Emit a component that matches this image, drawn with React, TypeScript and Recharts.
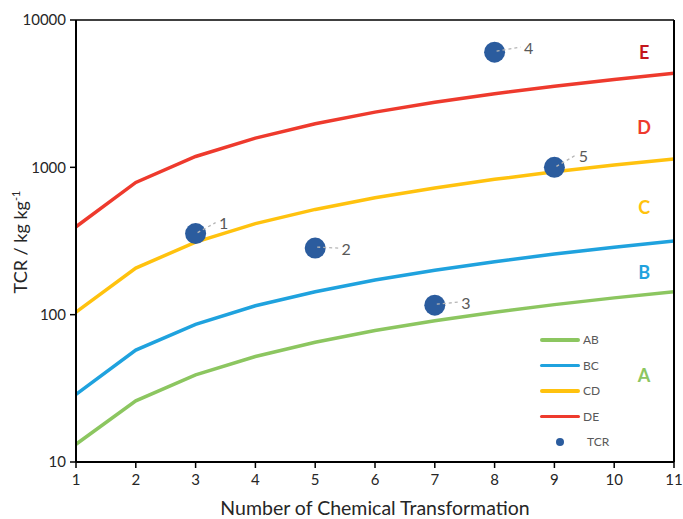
import React from "react";
import { ComposedChart, Line, Scatter, XAxis, YAxis, ReferenceDot } from "recharts";

const N = [1, 2, 3, 4, 5, 6, 7, 8, 9, 10, 11];
const AB = [13.2, 26, 39, 52, 65, 78, 91, 104, 117, 130, 143];
const BC = [28.8, 57.5, 86, 115, 143, 172, 200, 229, 258, 287, 316];
const CD = [104, 207, 311, 415, 518, 622, 725, 829, 932, 1036, 1140];
const DE = [395, 790, 1185, 1580, 1975, 2370, 2765, 3160, 3555, 3950, 4345];

const TCR_X = [3, 5, 7, 8, 9];
const TCR_Y = [355, 283, 116, 6050, 1000];
const TCR_LABELS = ["1", "2", "3", "4", "5"];

const MAJOR = [10, 100, 1000, 10000];
const MINOR = [20, 30, 40, 50, 60, 70, 80, 90, 200, 300, 400, 500, 600, 700, 800, 900, 2000, 3000, 4000, 5000, 6000, 7000, 8000, 9000];

const REGIONS = ["E", "D", "C", "B", "A"];

const SERIES = [
  { key: "AB", color: "#8CC660" },
  { key: "BC", color: "#1FA2DE" },
  { key: "CD", color: "#FFC20E" },
  { key: "DE", color: "#EE3A2D" },
];
const DOT = "#2B5C9E";
const FONT = "Lato, 'Open Sans', sans-serif";

// placement of the zone letters and the point labels (not data)
const REGION_X = 10.5;
const REGION_Y = [6070, 1880, 540, 194, 39];
const REGION_COLORS = ["#C4161C", "#EE3A2D", "#FFC20E", "#1FA2DE", "#8CC660"];
const LABEL_OFFSETS = [
  [28, -11],
  [31, 0],
  [31, -3],
  [34, -5],
  [29, -12],
];

const lineData = N.map((n, i) => ({ n, AB: AB[i], BC: BC[i], CD: CD[i], DE: DE[i] }));
const tcrData = TCR_X.map((n, i) => ({ n, tcr: TCR_Y[i], label: TCR_LABELS[i], i }));

function TcrDot(props: any) {
  const { cx, cy, payload } = props;
  const [dx, dy] = LABEL_OFFSETS[payload.i];
  return (
    <g>
      <circle cx={cx} cy={cy} r={10.5} fill={DOT} />
      <line
        x1={cx + 2}
        y1={cy - 1}
        x2={cx + dx - 8}
        y2={cy + dy}
        stroke="#B5B5B5"
        strokeWidth={1.3}
        strokeDasharray="3 3"
      />
      <text
        x={cx + dx}
        y={cy + dy}
        dominantBaseline="central"
        textAnchor="middle"
        fontSize={16}
        fill="#595959"
        fontFamily={FONT}
      >
        {payload.label}
      </text>
    </g>
  );
}

function XTick(props: any) {
  const { x, y, payload } = props;
  return (
    <text x={x} y={y + 15} textAnchor="middle" fontSize={15} fill="#262626" fontFamily={FONT}>
      {payload.value}
    </text>
  );
}

function Legend() {
  return (
    <div style={{ position: "absolute", left: 540, top: 327, fontFamily: FONT, fontSize: 12, color: "#595959" }}>
      {SERIES.map((s) => (
        <div key={s.key} style={{ display: "flex", alignItems: "center", height: 25.5 }}>
          <div style={{ width: 40, height: 3.5, background: s.color, borderRadius: 2 }} />
          <span style={{ marginLeft: 3 }}>{s.key}</span>
        </div>
      ))}
      <div style={{ display: "flex", alignItems: "center", height: 25.5 }}>
        <div style={{ width: 40, display: "flex", justifyContent: "center" }}>
          <div style={{ width: 8, height: 8, borderRadius: 4, background: DOT }} />
        </div>
        <span style={{ marginLeft: 7 }}>TCR</span>
      </div>
    </div>
  );
}

export default function App() {
  const tickStyle = { fontSize: 15, fill: "#262626", fontFamily: FONT };
  return (
    <div style={{ position: "relative", width: 683, height: 519, overflow: "hidden" }}>
      <style>{"body { margin: 0; }"}</style>
      <div style={{ position: "absolute", left: 8, top: 8 }}>
        <ComposedChart width={700} height={511} data={lineData} margin={{ top: 12, right: 34, left: 8, bottom: 27 }}>
          <XAxis
            dataKey="n"
            type="number"
            domain={[1, 11]}
            ticks={N}
            interval={0}
            allowDataOverflow
            tickSize={6}
            tickMargin={2}
            height={30}
            tick={<XTick />}
            axisLine={{ stroke: "#000", strokeWidth: 2 }}
            tickLine={{ stroke: "#000", strokeWidth: 1.5 }}
          />
          <XAxis
            xAxisId="inner"
            type="number"
            domain={[1, 11]}
            ticks={N}
            interval={0}
            allowDataOverflow
            mirror
            tickSize={5}
            tick={false}
            axisLine={false}
            tickLine={{ stroke: "#000", strokeWidth: 1.5 }}
          />
          <XAxis
            xAxisId="top"
            orientation="top"
            type="number"
            domain={[1, 11]}
            allowDataOverflow
            mirror
            tick={false}
            tickLine={false}
            axisLine={{ stroke: "#000", strokeWidth: 1.5 }}
          />
          <YAxis
            scale="log"
            type="number"
            domain={[10, 10000]}
            ticks={MAJOR}
            interval={0}
            allowDataOverflow
            width={60}
            tickSize={6}
            tickMargin={4}
            tick={tickStyle}
            axisLine={{ stroke: "#000", strokeWidth: 2 }}
            tickLine={{ stroke: "#000", strokeWidth: 1.5 }}
          />
          <YAxis
            yAxisId="inner"
            scale="log"
            type="number"
            domain={[10, 10000]}
            ticks={[...MAJOR, ...MINOR]}
            interval={0}
            allowDataOverflow
            mirror
            tickSize={4}
            tick={false}
            axisLine={false}
            tickLine={{ stroke: "#000", strokeWidth: 1.5 }}
          />
          <YAxis
            yAxisId="right"
            orientation="right"
            scale="log"
            type="number"
            domain={[10, 10000]}
            ticks={[...MAJOR, ...MINOR]}
            interval={0}
            allowDataOverflow
            mirror
            tickSize={5}
            tick={false}
            axisLine={{ stroke: "#000", strokeWidth: 2 }}
            tickLine={{ stroke: "#000", strokeWidth: 1.5 }}
          />
          {SERIES.map((s) => (
            <Line
              key={s.key}
              dataKey={s.key}
              stroke={s.color}
              strokeWidth={3.5}
              dot={false}
              activeDot={false}
              isAnimationActive={false}
            />
          ))}
          <Scatter data={tcrData} dataKey="tcr" shape={TcrDot} isAnimationActive={false} />
          {REGIONS.map((r, i) => (
            <ReferenceDot
              key={r}
              x={REGION_X}
              y={REGION_Y[i]}
              r={0}
              ifOverflow="visible"
              shape={(p: any) => (
                <text
                  x={p.cx}
                  y={p.cy}
                  textAnchor="middle"
                  dominantBaseline="central"
                  fontSize={18}
                  fontWeight={700}
                  fill={REGION_COLORS[i]}
                  fontFamily={FONT}
                >
                  {r}
                </text>
              )}
            />
          ))}
        </ComposedChart>
      </div>
      <Legend />
      <div
        style={{
          position: "absolute",
          left: 20,
          top: 242,
          transform: "translate(-50%, -50%) rotate(-90deg)",
          whiteSpace: "nowrap",
          fontFamily: FONT,
          fontSize: 18,
          color: "#262626",
        }}
      >
        TCR / kg kg<sup style={{ fontSize: 11 }}>-1</sup>
      </div>
      <div
        style={{
          position: "absolute",
          left: 375,
          top: 508,
          transform: "translate(-50%, -50%)",
          whiteSpace: "nowrap",
          lineHeight: "20px",
          fontFamily: FONT,
          fontSize: 19.5,
          color: "#262626",
        }}
      >
        Number of Chemical Transformation
      </div>
    </div>
  );
}
